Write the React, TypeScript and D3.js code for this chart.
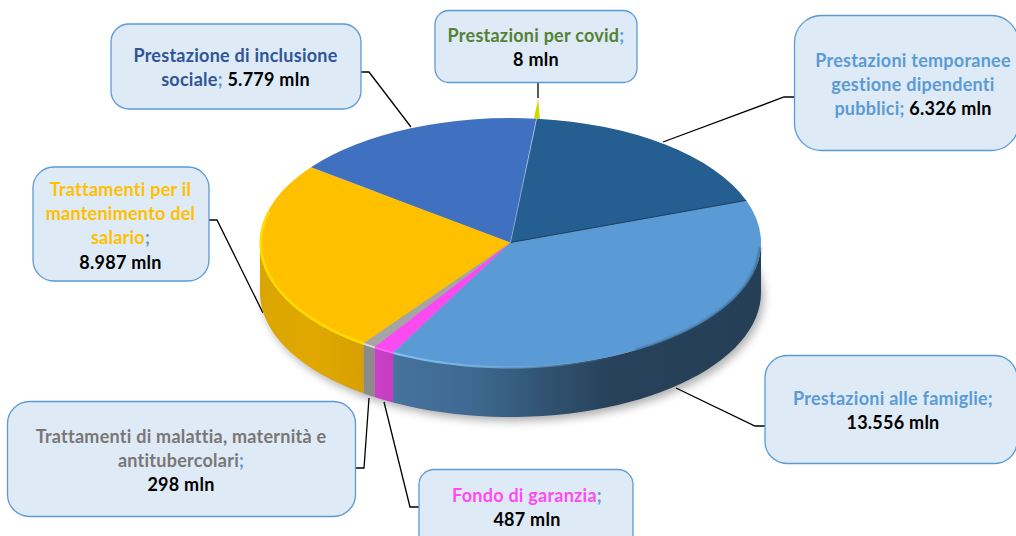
import React from "react";
import * as d3 from "d3";

// ---- data ----
const categories = [
  "Prestazioni temporanee gestione dipendenti pubblici",
  "Prestazioni alle famiglie",
  "Fondo di garanzia",
  "Trattamenti di malattia, maternità e antitubercolari",
  "Trattamenti per il mantenimento del salario",
  "Prestazione di inclusione sociale",
  "Prestazioni per covid",
];
const values = [6326, 13556, 487, 298, 8987, 5779, 8];
const topColors = ["#255e91", "#5b9bd5", "#fb4bf0", "#a5a5a5", "#ffc000", "#4070c0", "#d4d800"];
const labelLines = [
  ["Prestazioni temporanee", "gestione dipendenti", "pubblici;"],
  ["Prestazioni alle famiglie;"],
  ["Fondo di garanzia;"],
  ["Trattamenti di malattia, maternità e", "antitubercolari;"],
  ["Trattamenti per il", "mantenimento del", "salario;"],
  ["Prestazione di inclusione", "sociale;"],
  ["Prestazioni per covid;"],
];
const valueInline = [true, false, false, false, false, true, false];
const labelColors = ["#5b9bd5", "#5b9bd5", "#ff4bf5", "#7a7676", "#ffc000", "#2f5597", "#548235"];

// ---- layout ----
const boxes = [
  { x: 794.5, y: 15.5, w: 224, h: 135, r: 27, cx: 913, ly: 60 },
  { x: 765, y: 355.5, w: 252, h: 108, r: 22, cx: 893, ly: 398 },
  { x: 419, y: 469.5, w: 214, h: 90, r: 15, cx: 527, ly: 495 },
  { x: 7.5, y: 401.5, w: 348, h: 115, r: 22, cx: 181, ly: 436 },
  { x: 33, y: 167, w: 176, h: 114, r: 21, cx: 120.5, ly: 189 },
  { x: 111, y: 24, w: 250, h: 85, r: 18, cx: 235.5, ly: 55 },
  { x: 435, y: 10.5, w: 202, h: 72, r: 14, cx: 536, ly: 35 },
];
const leaders = [
  [[794, 97], [784, 97], [663, 142]],
  [[765, 426], [755, 426], [676, 388]],
  [[419, 507], [410, 507], [384, 402]],
  [[356, 468], [364, 468], [369, 398]],
  [[209, 220], [217, 220], [263, 313]],
  [[361, 72], [369, 72], [411, 127]],
  [[538, 83], [538, 98]],
];
const LINE_H = 24.3;
const FONT = "Lato, Carlito, Calibri, sans-serif";
const deg = (d: number) => (d * Math.PI) / 180;

const x = d3.scaleLinear().domain([-1, 1]).range([260, 761]);
const y = d3.scaleLinear().domain([-1, 1]).range([118, 367]);
const DEPTH = 50;
const cx = x(0);
const cy = y(0);
const RX = x(1) - x(0);
const RY = y(1) - y(0);

const pie = d3
  .pie<number>()
  .sort(null)
  .startAngle(deg(6))
  .endAngle(deg(366));
const slices = pie(values);

const numFmt = d3.formatLocale({ decimal: ",", thousands: ".", grouping: [3], currency: ["", ""] }).format(",d");

const edge = (a0: number, a1: number, dy = 0, f = 1) =>
  d3.range(0, 41).map((i) => {
    const t = a0 + ((a1 - a0) * i) / 40;
    return [x(Math.sin(t) * f), y(-Math.cos(t) * f) + dy] as [number, number];
  });
const line = d3.line();
const sidePath = (a0: number, a1: number) => {
  const top = edge(a0, a1);
  const bot = edge(a0, a1, DEPTH).reverse();
  return line([...top, ...bot]) + "Z";
};
const arcGen = d3.arc<d3.PieArcDatum<number>>().innerRadius(0).outerRadius(RX);
const radial = (a: number) => line([[cx, cy], edge(a, a)[0]]) as string;

const frontClamp = (a0: number, a1: number) => [Math.max(a0, deg(90)), Math.min(a1, deg(270))];

const sideFill = ["none", "url(#sideBlue)", "url(#sideMag)", "#8b8b8b", "url(#sideGold)", "none", "none"];

export default function App() {
  const covid = slices[6];
  const mid = (covid.startAngle + covid.endAngle) / 2;
  const sliver = [
    edge(mid - deg(0.5), mid - deg(0.5), 0, 1.157)[0],
    edge(mid - deg(0.6), mid - deg(0.6), 0, 1)[0],
    edge(mid + deg(0.8), mid + deg(0.8), 0, 1)[0],
  ];
  return (
    <svg
      width={1016}
      height={536}
      viewBox="0 0 1016 536"
      style={{ position: "absolute", left: 0, top: 0, display: "block", background: "#fff" }}
    >
      <defs>
        <filter id="shadow" x="-10%" y="-10%" width="120%" height="130%">
          <feGaussianBlur stdDeviation="5" />
        </filter>
        <filter id="soft" x="-5%" y="-5%" width="110%" height="110%">
          <feGaussianBlur stdDeviation="0.8" />
        </filter>
        <linearGradient id="sideBlue" gradientUnits="userSpaceOnUse" x1={395} x2={761} y1={0} y2={0}>
          <stop offset="0" stopColor="#44739e" />
          <stop offset="0.22" stopColor="#3e6890" />
          <stop offset="0.42" stopColor="#30526f" />
          <stop offset="0.6" stopColor="#264159" />
          <stop offset="1" stopColor="#243f56" />
        </linearGradient>
        <linearGradient id="sideGold" gradientUnits="userSpaceOnUse" x1={260} x2={365} y1={0} y2={0}>
          <stop offset="0" stopColor="#dba500" />
          <stop offset="0.5" stopColor="#e0a800" />
          <stop offset="1" stopColor="#d6a000" />
        </linearGradient>
        <linearGradient id="sideMag" gradientUnits="userSpaceOnUse" x1={375} x2={396} y1={0} y2={0}>
          <stop offset="0" stopColor="#cc40c6" />
          <stop offset="1" stopColor="#c43cc0" />
        </linearGradient>
        <linearGradient id="rimBlue" gradientUnits="userSpaceOnUse" x1={395} x2={620} y1={0} y2={0}>
          <stop offset="0" stopColor="#86c0f0" />
          <stop offset="0.55" stopColor="#78b0e0" stopOpacity="0.7" />
          <stop offset="1" stopColor="#5b9bd5" stopOpacity="0" />
        </linearGradient>
      </defs>

      {/* leader lines */}
      {leaders.map((pts, i) => (
        <path key={i} d={line(pts as [number, number][]) as string} fill="none" stroke="#000" strokeWidth={1.3} />
      ))}

      {/* shadow */}
      <path d={line(edge(deg(0), deg(360), DEPTH + 4)) + "Z"} transform="translate(3,0)" fill="#000" opacity={0.33} filter="url(#shadow)" />

      {/* covid sliver */}
      <path d={line(sliver) + "Z"} fill={topColors[6]} />

      {/* side walls */}
      {slices.map((s, i) => {
        const [a0, a1] = frontClamp(s.startAngle, s.endAngle);
        if (a1 <= a0 || sideFill[i] === "none") return null;
        return <path key={i} d={sidePath(a0, a1)} fill={sideFill[i]} />;
      })}

      {/* top face */}
      <g transform={`translate(${cx},${cy}) scale(1,${RY / RX})`}>
        {slices.map((s, i) => (i === 6 ? null : <path key={i} d={arcGen(s) as string} fill={topColors[i]} />))}
      </g>

      {/* slice separators */}
      <path d={radial(slices[1].startAngle)} stroke="#14344f" strokeWidth={0.9} fill="none" />
      <path d={radial(slices[0].startAngle)} stroke="#a9c4e0" strokeWidth={0.6} fill="none" />

      {/* bevel rims */}
      <path d={line(edge(deg(92), deg(150), 0.5, 0.997)) as string} fill="none" stroke="#2b4f70" strokeWidth={1.8} filter="url(#soft)" opacity={0.8} />
      <path d={line(edge(deg(150), slices[1].endAngle, 0.8, 0.997)) as string} fill="none" stroke="url(#rimBlue)" strokeWidth={2.2} />
      <path d={line(edge(slices[4].startAngle, deg(285), 0.8, 0.997)) as string} fill="none" stroke="#ffdc00" strokeWidth={2.6} />
      <path d={line(edge(slices[3].startAngle, slices[3].endAngle, 0.8, 0.997)) as string} fill="none" stroke="#d8d8d8" strokeWidth={2} />
      <path d={line(edge(slices[2].startAngle, slices[2].endAngle, 0.8, 0.997)) as string} fill="none" stroke="#ff66f5" strokeWidth={2} />

      {/* labels */}
      {categories.map((c, i) => {
        const b = boxes[i];
        const lines = labelLines[i];
        const val = numFmt(values[i]) + " mln";
        return (
          <g key={c}>
            <rect x={b.x} y={b.y} width={b.w} height={b.h} rx={b.r} ry={b.r} fill="#deeaf6" stroke="#5b9bd5" strokeWidth={1.3} />
            <text x={b.cx} textAnchor="middle" fontFamily={FONT} fontWeight={700} fontSize={18} letterSpacing={0.25} style={{ fontKerning: "normal" }}>
              {lines.map((l, j) => {
                const hasSemi = l.endsWith(";");
                const body = hasSemi ? l.slice(0, -1) : l;
                const isLast = j === lines.length - 1;
                return (
                  <tspan key={j} x={b.cx} y={b.ly + j * LINE_H + 6.6}>
                    <tspan fill={labelColors[i]}>{body}</tspan>
                    {hasSemi && <tspan fill="#5b9bd5">;</tspan>}
                    {isLast && valueInline[i] && <tspan fill="#000"> {val}</tspan>}
                  </tspan>
                );
              })}
              {!valueInline[i] && (
                <tspan x={b.cx} y={b.ly + lines.length * LINE_H + 6.6} fill="#000">
                  {val}
                </tspan>
              )}
            </text>
          </g>
        );
      })}
    </svg>
  );
}
